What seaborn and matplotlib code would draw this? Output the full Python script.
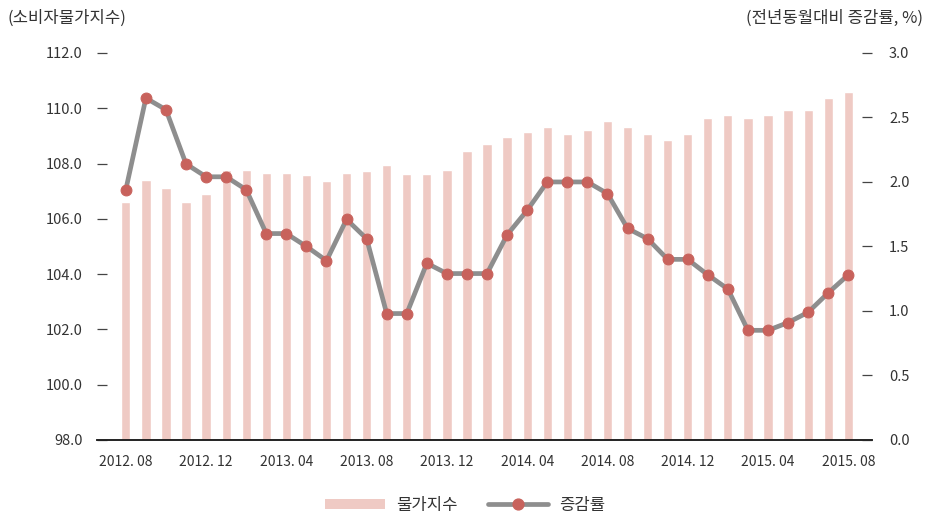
import numpy as np
import pandas as pd
import matplotlib
matplotlib.use('Agg')
import matplotlib.pyplot as plt
import seaborn as sns
from matplotlib.lines import Line2D
from matplotlib.patches import Patch

# months 2012.08 - 2015.08
months = pd.period_range('2012-08', '2015-08', freq='M')
month_labels = [f"{p.year}. {p.month:02d}" for p in months]

cpi = [106.62, 107.40, 107.11, 106.62, 106.90, 107.75, 107.77, 107.65, 107.65, 107.59,
       107.37, 107.65, 107.73, 107.95, 107.62, 107.62, 107.78, 108.46, 108.70, 108.96,
       109.14, 109.31, 109.08, 109.23, 109.54, 109.31, 109.08, 108.84, 109.08, 109.65,
       109.77, 109.65, 109.77, 109.95, 109.95, 110.36, 110.58]

yoy = [1.94, 2.65, 2.56, 2.14, 2.04, 2.04, 1.94, 1.60, 1.60, 1.50,
       1.39, 1.71, 1.56, 0.98, 0.98, 1.37, 1.29, 1.29, 1.29, 1.59,
       1.78, 2.00, 2.00, 2.00, 1.91, 1.64, 1.56, 1.40, 1.40, 1.28,
       1.17, 0.85, 0.85, 0.91, 0.99, 1.14, 1.28]

bar_color = '#efcac4'
line_color = '#8e8e8e'
marker_color = '#c8625c'
text_color = '#333333'

sns.set_style('white')
plt.rcParams['font.family'] = ['Noto Sans CJK KR', 'DejaVu Sans']

df = pd.DataFrame({'month': month_labels, 'idx': np.arange(len(cpi)), 'cpi': cpi, 'yoy': yoy})

fig = plt.figure(figsize=(9.3, 5.14), dpi=100)
ax = fig.add_axes([0.104, 0.144, 0.834, 0.753])

sns.barplot(data=df, x='idx', y='cpi', color=bar_color, width=0.46, ax=ax,
            saturation=1, errorbar=None)
ax.set_ylim(98, 112)
ax.set_xlim(-1.45, 37.2)
ax.set_yticks(np.arange(98, 112.1, 2))
ax.set_yticklabels([f"{v:.1f}" for v in np.arange(98, 112.1, 2)])
ax.set_xticks(range(0, 37, 4))
ax.set_xticklabels([month_labels[i] for i in range(0, 37, 4)])
ax.set_xlabel('')
ax.set_ylabel('')

ax2 = ax.twinx()
sns.lineplot(data=df, x='idx', y='yoy', ax=ax2, color=line_color, linewidth=3.4,
             marker='o', markersize=7.8, markerfacecolor=marker_color,
             markeredgecolor=marker_color, zorder=3)
ax2.set_ylim(0, 3.0)
ax2.set_yticks(np.arange(0, 3.01, 0.5))
ax2.set_yticklabels([f"{v:.1f}" for v in np.arange(0, 3.01, 0.5)])
ax2.set_xlim(-1.45, 37.2)
ax2.set_xlabel('')
ax2.set_ylabel('')

for a in (ax, ax2):
    for s in ('top', 'left', 'right'):
        a.spines[s].set_visible(False)
    a.spines['bottom'].set_color('#222222')
    a.spines['bottom'].set_linewidth(1.2)

# inward dash ticks, labels pushed outside
ax.tick_params(axis='y', direction='in', length=7, width=0.9, color='#444444',
               pad=10, labelsize=10.5, labelcolor=text_color, left=True)
ax.tick_params(axis='x', length=0, pad=11, labelsize=10, labelcolor=text_color)
ax2.tick_params(axis='y', direction='in', length=7, width=0.9, color='#444444',
                pad=12, labelsize=10.5, labelcolor=text_color, right=True)

fig.text(0.008, 0.965, '(소비자물가지수)', fontsize=12, color=text_color, ha='left', va='center')
fig.text(0.992, 0.965, '(전년동월대비 증감률, %)', fontsize=12, color=text_color, ha='right', va='center')

handles = [Patch(facecolor=bar_color, edgecolor='none'),
           Line2D([0], [0], color=line_color, linewidth=3.4, marker='o', markersize=7.8,
                  markerfacecolor=marker_color, markeredgecolor=marker_color)]
fig.legend(handles, ['물가지수', '증감률'], loc='center', bbox_to_anchor=(0.5, 0.017),
           ncol=2, frameon=False, fontsize=12, handlelength=3.6, handleheight=0.6,
           columnspacing=1.8, handletextpad=0.7, labelcolor=text_color)

fig.savefig('out.png', dpi=100)
